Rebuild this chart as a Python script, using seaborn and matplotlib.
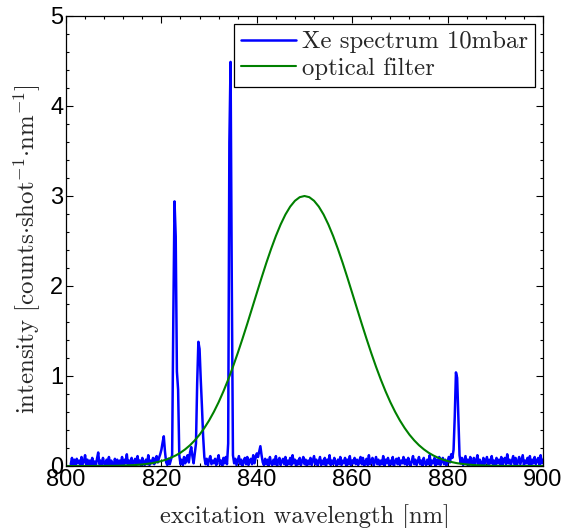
import numpy as np
import pandas as pd
import matplotlib
matplotlib.use("Agg")
import matplotlib.pyplot as plt
from matplotlib.ticker import MultipleLocator
import seaborn as sns

# ---------------- data ----------------
# Xe spectrum, sampled every 0.25 nm; one row per 10 nm starting at row_starts
row_starts = [801, 811, 821, 831, 841, 851, 861, 871, 881, 891]
xe_rows = [
    [0.02, 0.09, 0.01, 0.07, 0.00, 0.08, 0.03, 0.06, 0.01, 0.10, 0.02, 0.05, 0.12, 0.01, 0.07, 0.00, 0.06, 0.02, 0.09, 0.01,
     0.05, 0.00, 0.08, 0.15, 0.02, 0.06, 0.01, 0.09, 0.03, 0.00, 0.07, 0.02, 0.10, 0.01, 0.06, 0.03, 0.00, 0.08, 0.02, 0.07],
    [0.01, 0.06, 0.02, 0.10, 0.00, 0.07, 0.03, 0.13, 0.01, 0.06, 0.02, 0.09, 0.00, 0.05, 0.08, 0.01, 0.11, 0.02, 0.06, 0.00,
     0.09, 0.03, 0.01, 0.07, 0.02, 0.12, 0.01, 0.06, 0.03, 0.09, 0.02, 0.08, 0.11, 0.04, 0.09, 0.13, 0.18, 0.26, 0.33, 0.16],
    [0.04, 0.01, 0.08, 0.02, 0.07, 0.12, 1.66, 2.94, 2.55, 1.05, 0.85, 0.12, 0.02, 0.07, 0.01, 0.10, 0.03, 0.09, 0.12, 0.04,
     0.15, 0.21, 0.11, 0.03, 0.14, 0.25, 0.92, 1.38, 1.30, 0.96, 0.66, 0.33, 0.10, 0.02, 0.08, 0.01, 0.07, 0.11, 0.02, 0.06],
    [0.03, 0.08, 0.01, 0.07, 0.12, 0.02, 0.06, 0.00, 0.09, 0.03, 0.10, 0.02, 0.25, 3.60, 4.49, 2.10, 0.12, 0.03, 0.08, 0.01,
     0.06, 0.11, 0.02, 0.07, 0.00, 0.05, 0.09, 0.02, 0.10, 0.01, 0.06, 0.08, 0.02, 0.12, 0.03, 0.09, 0.14, 0.10, 0.16, 0.22],
    [0.12, 0.04, 0.01, 0.08, 0.02, 0.07, 0.00, 0.10, 0.03, 0.01, 0.07, 0.02, 0.11, 0.00, 0.06, 0.09, 0.01, 0.05, 0.08, 0.02,
     0.10, 0.00, 0.06, 0.02, 0.09, 0.01, 0.12, 0.03, 0.07, 0.00, 0.06, 0.02, 0.09, 0.01, 0.05, 0.10, 0.02, 0.07, 0.00, 0.06],
    [0.02, 0.09, 0.01, 0.06, 0.11, 0.02, 0.07, 0.00, 0.05, 0.10, 0.01, 0.06, 0.02, 0.09, 0.00, 0.07, 0.03, 0.12, 0.01, 0.06,
     0.02, 0.09, 0.03, 0.00, 0.07, 0.02, 0.10, 0.01, 0.06, 0.03, 0.09, 0.00, 0.07, 0.02, 0.11, 0.01, 0.06, 0.03, 0.09, 0.02],
    [0.07, 0.01, 0.06, 0.10, 0.02, 0.09, 0.00, 0.05, 0.08, 0.01, 0.12, 0.02, 0.06, 0.09, 0.00, 0.05, 0.10, 0.02, 0.07, 0.01,
     0.06, 0.02, 0.11, 0.00, 0.07, 0.03, 0.09, 0.01, 0.06, 0.02, 0.10, 0.00, 0.05, 0.08, 0.02, 0.09, 0.01, 0.06, 0.03, 0.10],
    [0.02, 0.07, 0.01, 0.09, 0.03, 0.00, 0.06, 0.11, 0.02, 0.07, 0.01, 0.05, 0.10, 0.02, 0.06, 0.00, 0.09, 0.03, 0.01, 0.07,
     0.02, 0.12, 0.01, 0.06, 0.03, 0.09, 0.00, 0.07, 0.02, 0.10, 0.01, 0.06, 0.09, 0.02, 0.07, 0.00, 0.05, 0.10, 0.04, 0.13],
    [0.09, 0.18, 0.55, 1.04, 0.98, 0.55, 0.12, 0.03, 0.09, 0.01, 0.06, 0.11, 0.02, 0.07, 0.00, 0.10, 0.03, 0.01, 0.09, 0.02,
     0.06, 0.12, 0.01, 0.07, 0.03, 0.00, 0.09, 0.02, 0.06, 0.10, 0.01, 0.07, 0.03, 0.11, 0.02, 0.06, 0.00, 0.09, 0.03, 0.07],
    [0.02, 0.10, 0.01, 0.06, 0.09, 0.02, 0.13, 0.03, 0.07, 0.01, 0.06, 0.11, 0.02, 0.09, 0.00, 0.05, 0.10, 0.02, 0.07, 0.12,
     0.01, 0.06, 0.03, 0.09, 0.02, 0.11, 0.01, 0.07, 0.03, 0.10, 0.02, 0.06, 0.09, 0.01, 0.12, 0.03, 0.07],
]
xe_step = 0.25

# optical filter transmission curve, sampled every 1 nm from 800 to 900
filter_wl = list(range(800, 901))
filter_val = [
    0.000, 0.000, 0.000, 0.000, 0.000, 0.000, 0.001, 0.001, 0.001, 0.002,
    0.002, 0.003, 0.005, 0.007, 0.009, 0.013, 0.017, 0.024, 0.031, 0.042,
    0.055, 0.071, 0.092, 0.117, 0.148, 0.186, 0.231, 0.285, 0.348, 0.422,
    0.506, 0.602, 0.709, 0.829, 0.960, 1.102, 1.254, 1.414, 1.580, 1.751,
    1.922, 2.092, 2.257, 2.412, 2.556, 2.684, 2.794, 2.882, 2.947, 2.987,
    3.000,
    2.987, 2.947, 2.882, 2.794, 2.684, 2.556, 2.412, 2.257, 2.092, 1.922,
    1.751, 1.580, 1.414, 1.254, 1.102, 0.960, 0.829, 0.709, 0.602, 0.506,
    0.422, 0.348, 0.285, 0.231, 0.186, 0.148, 0.117, 0.092, 0.071, 0.055,
    0.042, 0.031, 0.024, 0.017, 0.013, 0.009, 0.007, 0.005, 0.003, 0.002,
    0.002, 0.001, 0.001, 0.001, 0.000, 0.000, 0.000, 0.000, 0.000, 0.000,
]

labels = ["Xe spectrum 10mbar", "optical filter"]
x_label = "excitation wavelength [nm]"
y_label = r"intensity [counts$\cdot$shot$^{-1}$$\cdot$nm$^{-1}$]"

# ---------------- build tables ----------------
xe_wl, xe_int = [], []
for start, row in zip(row_starts, xe_rows):
    for i, v in enumerate(row):
        xe_wl.append(start + xe_step * i)
        xe_int.append(v)
df_xe = pd.DataFrame({"wl": xe_wl, "I": xe_int})
df_f = pd.DataFrame({"wl": filter_wl, "I": filter_val})

# ---------------- style ----------------
sns.set_style("ticks")
plt.rcParams["font.family"] = ["Liberation Sans", "DejaVu Sans"]
plt.rcParams["mathtext.fontset"] = "cm"
plt.rcParams["axes.unicode_minus"] = False

fig = plt.figure(figsize=(5.63, 5.28), dpi=100)
ax = fig.add_axes([66 / 563, 1 - 466 / 528, (543 - 66) / 563, (466 - 16) / 528])

sns.lineplot(data=df_xe, x="wl", y="I", ax=ax, color="#0000ff", lw=1.8,
             label=labels[0], sort=False, estimator=None)
sns.lineplot(data=df_f, x="wl", y="I", ax=ax, color="#008000", lw=1.5,
             label=labels[1], sort=False, estimator=None)

ax.set_xlim(800, 900)
ax.set_ylim(0, 5)
ax.xaxis.set_major_locator(MultipleLocator(20))
ax.xaxis.set_minor_locator(MultipleLocator(4))
ax.yaxis.set_major_locator(MultipleLocator(1))
ax.yaxis.set_minor_locator(MultipleLocator(0.2))
ax.tick_params(which="both", direction="in", top=True, right=True, width=0.8, colors="black")
ax.tick_params(which="major", length=5, labelsize=17, pad=2)
ax.tick_params(which="minor", length=2.5)
for s in ax.spines.values():
    s.set_visible(True)
    s.set_linewidth(0.9)
    s.set_color("black")

ax.set_xlabel(x_label, family="cmr10", fontsize=17.7, labelpad=10)
ax.set_ylabel(y_label, family="cmr10", fontsize=17.9)
ax.yaxis.set_label_coords(-0.048, (466 - 249) / 450)

leg = ax.legend(loc="upper right", prop={"family": "cmr10", "size": 17.8},
                frameon=True, fancybox=False, framealpha=1, edgecolor="black",
                handlelength=2.2, borderaxespad=0.33, borderpad=0.28,
                labelspacing=0.15, handletextpad=0.25)
leg.get_frame().set_linewidth(0.9)

fig.savefig("out.png", dpi=100)
